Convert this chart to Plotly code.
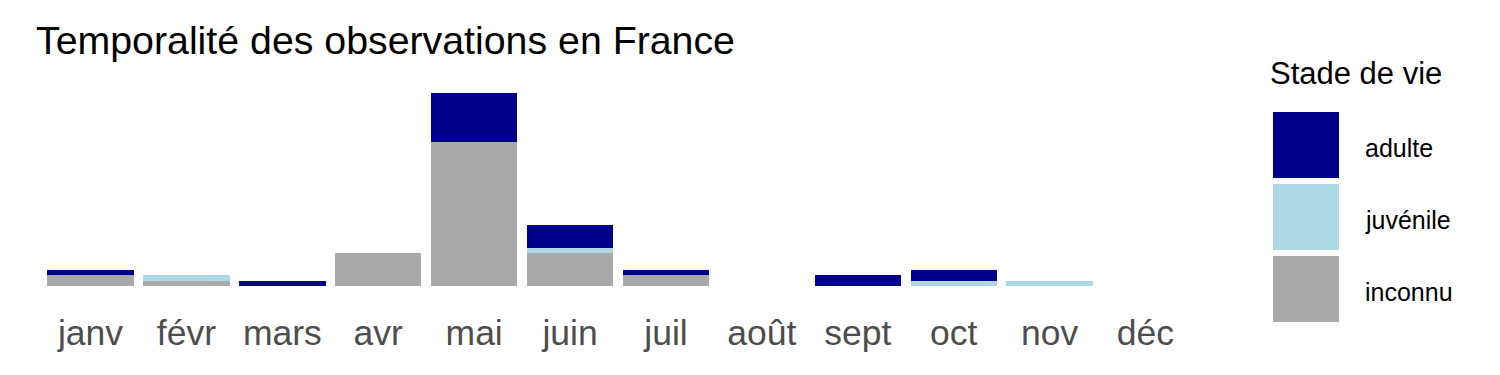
import plotly.graph_objects as go

months = ["janv", "févr", "mars", "avr", "mai", "juin", "juil", "août", "sept", "oct", "nov", "déc"]
inconnu = [2, 1, 0, 6, 26, 6, 2, 0, 0, 0, 0, 0]
juvenile = [0, 1, 0, 0, 0, 1, 0, 0, 0, 1, 1, 0]
adulte = [1, 0, 1, 0, 9, 4, 1, 0, 2, 2, 0, 0]

stages = ["adulte", "juvénile", "inconnu"]
colors = {"adulte": "#00008B", "juvénile": "#ADD8E6", "inconnu": "#A9A9A9"}
values = {"adulte": adulte, "juvénile": juvenile, "inconnu": inconnu}

W, H = 1500, 375
L, R, T, B = 33, 297, 83, 79
FONT = "Liberation Sans, Arial, sans-serif"

fig = go.Figure()
for s in ["inconnu", "juvénile", "adulte"]:
    fig.add_trace(go.Bar(x=months, y=values[s], name=s, marker_color=colors[s],
                         marker_line_width=0, showlegend=False))

totals = [a + b + c for a, b, c in zip(inconnu, juvenile, adulte)]
ymax = max(totals)

fig.update_layout(
    width=W, height=H,
    margin=dict(l=L, r=R, t=T, b=B),
    barmode="stack", bargap=0.1,
    plot_bgcolor="white", paper_bgcolor="white",
    title=dict(text="Temporalité des observations en France", x=36 / W, xref="container",
               xanchor="left", y=1 - 40 / H, yref="container", yanchor="middle",
               font=dict(family=FONT, size=39.3, color="black")),
    xaxis=dict(range=[-0.6, 11.6], showgrid=False, zeroline=False, showline=False,
               ticks="", ticklabelstandoff=12,
               tickfont=dict(family=FONT, size=35.5, color="#4D4D4D")),
    yaxis=dict(range=[-0.05 * ymax, 1.05 * ymax], visible=False, showgrid=False),
    hovermode=False,
)

pw = W - L - R
ph = H - T - B


def px2x(px):
    return (px - L) / pw


def py2y(py):
    return 1 - (py - T) / ph


# legend
fig.add_annotation(text="Stade de vie", xref="paper", yref="paper", x=px2x(1268), y=py2y(73),
                   xanchor="left", yanchor="middle", showarrow=False,
                   font=dict(family=FONT, size=31, color="black"))
key_top = 112
for i, s in enumerate(stages):
    y0 = key_top + i * 72
    fig.add_shape(type="rect", xref="paper", yref="paper",
                  x0=px2x(1273), x1=px2x(1339), y0=py2y(y0), y1=py2y(y0 + 66),
                  fillcolor=colors[s], line_width=0)
    fig.add_annotation(text=s, xref="paper", yref="paper", x=px2x(1363), y=py2y(y0 + 36),
                       xanchor="left", yanchor="middle", showarrow=False,
                       font=dict(family=FONT, size=25, color="black"))

fig.write_html("out.html")
